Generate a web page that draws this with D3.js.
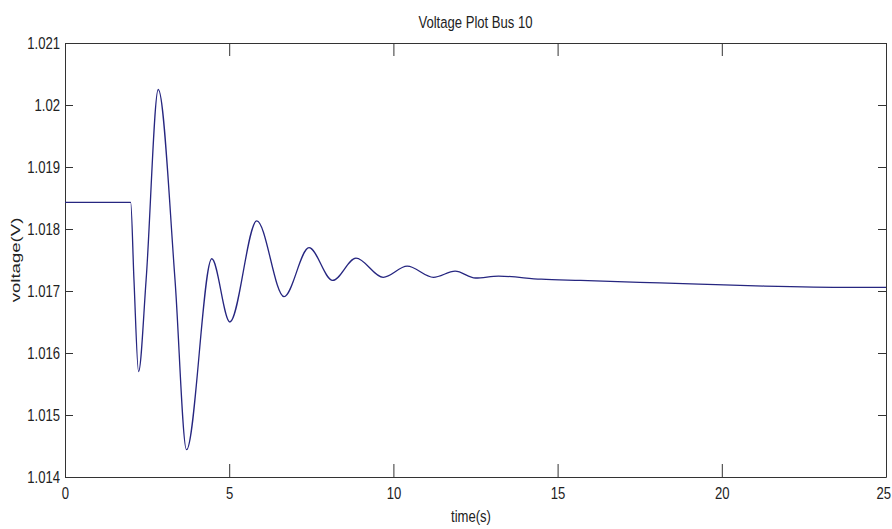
<!DOCTYPE html>
<html>
<head>
<meta charset="utf-8">
<script src="https://cdn.jsdelivr.net/npm/d3@7"></script>
<style>
  body { margin: 0; background: #fff; }
  text { font-family: "Liberation Sans", Arial, sans-serif; fill: #222; }
</style>
</head>
<body>
<svg width="892" height="529"></svg>
<script>
// values
const timeS = [0, 2.0, 2.10, 2.24, 2.47, 2.84, 3.35, 3.70, 4.47, 5.02, 5.84, 6.67, 7.43, 8.15, 8.86, 9.69,
               10.42, 11.22, 11.88, 12.5, 13.2, 14.5, 15.7, 17.5, 19.3, 21.3, 23.9, 25];
const voltage = [1.01843, 1.01843, 1.01718, 1.01570, 1.01718, 1.02025, 1.01718, 1.01444, 1.01752, 1.01650,
                 1.01813, 1.01691, 1.01770, 1.01717, 1.01753, 1.01722, 1.01740, 1.01722, 1.01732, 1.01721,
                 1.01724, 1.01719, 1.01717, 1.01714, 1.01711, 1.01708, 1.01706, 1.01706];
const xTicks = [0, 5, 10, 15, 20, 25];
const yTicks = [1.014, 1.015, 1.016, 1.017, 1.018, 1.019, 1.020, 1.021];
const yTickLabels = ["1.014", "1.015", "1.016", "1.017", "1.018", "1.019", "1.02", "1.021"];

let svg = d3.select("svg"),
    margin = {top: 43, right: 6, bottom: 52, left: 65},
    width = +svg.attr("width") - margin.left - margin.right,
    height = +svg.attr("height") - margin.top - margin.bottom,
    g = svg.append("g").attr("transform", "translate(" + margin.left + "," + margin.top + ")");

let data = timeS.map((t, i) => ({t: t, v: voltage[i]}));

let x = d3.scaleLinear().domain([0, 25]).range([0, width]);
let y = d3.scaleLinear().domain([1.014, 1.021]).range([height, 0]);

// squeeze the labels sideways, like the reference
function squeeze(sel) {
    sel.selectAll(".tick text").each(function () {
        let t = d3.select(this);
        let tx = +t.attr("x") || 0, ty = +t.attr("y") || 0;
        t.attr("x", 0).attr("y", 0)
         .attr("transform", "translate(" + tx + "," + ty + ") scale(0.77,1)");
    });
}

function styleAxis(sel) {
    sel.selectAll("path, line").attr("stroke", "#333").attr("stroke-width", 1);
    sel.attr("font-size", 17).attr("font-family", null);
    sel.selectAll("text").attr("fill", "#222");
}

let xAxis = g.append("g")
    .attr("transform", "translate(0," + height + ")")
    .call(d3.axisBottom(x).tickValues(xTicks).tickSizeInner(-13).tickSizeOuter(0).tickPadding(10))
    .call(styleAxis).call(squeeze);

// last label sits against the window edge
xAxis.selectAll(".tick text")
    .filter(d => d === 25)
    .attr("text-anchor", "end")
    .attr("x", 6);

g.append("g")
    .call(d3.axisTop(x).tickValues(xTicks).tickSizeInner(-13).tickSizeOuter(0).tickFormat(""))
    .call(styleAxis);

g.append("g")
    .call(d3.axisLeft(y).tickValues(yTicks).tickSizeInner(-8).tickSizeOuter(0).tickPadding(5)
        .tickFormat((d, i) => yTickLabels[i]))
    .call(styleAxis).call(squeeze);

g.append("g")
    .attr("transform", "translate(" + width + ",0)")
    .call(d3.axisRight(y).tickValues(yTicks).tickSizeInner(-8).tickSizeOuter(0).tickFormat(""))
    .call(styleAxis);

let line = d3.line()
    .x(d => x(d.t))
    .y(d => y(d.v))
    .curve(d3.curveMonotoneX);

g.append("path")
    .datum(data)
    .attr("fill", "none")
    .attr("stroke", "#262680")
    .attr("stroke-width", 1.3)
    .attr("d", line);

// title and axis labels
svg.append("text")
    .attr("transform", "translate(" + (margin.left + width / 2) + ",28) scale(0.77,1)")
    .attr("text-anchor", "middle")
    .attr("font-size", 17)
    .text("Voltage Plot Bus 10");

svg.append("text")
    .attr("transform", "translate(471,522) scale(0.77,1)")
    .attr("text-anchor", "middle")
    .attr("font-size", 17)
    .text("time(s)");

svg.append("text")
    .attr("transform", "translate(20," + (margin.top + height / 2) + ") rotate(-90) scale(1.55,1)")
    .attr("text-anchor", "middle")
    .attr("font-size", 12)
    .text("voltage(V)");
</script>
</body>
</html>
